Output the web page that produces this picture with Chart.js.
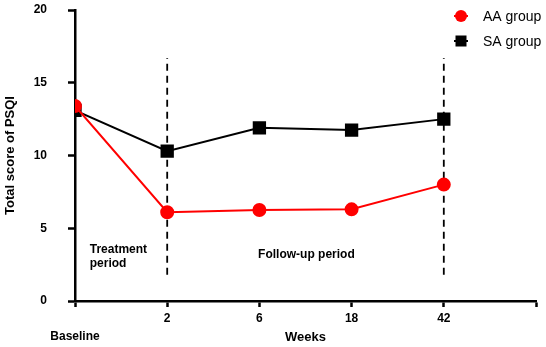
<!DOCTYPE html>
<html>
<head>
<meta charset="utf-8">
<script src="https://cdn.jsdelivr.net/npm/chart.js@4.4.1/dist/chart.umd.min.js"></script>
<style>
html,body{margin:0;padding:0;background:#fff;}
#wrap{width:546px;height:347px;}
</style>
</head>
<body>
<div id="wrap"><canvas id="c" width="546" height="347"></canvas></div>
<script>
const categories = [['', 'Baseline'], '2', '6', '18', '42', ''];
const aaGroup = [13.4, 6.1, 6.25, 6.3, 8.0];
const saGroup = [13.1, 10.3, 11.9, 11.75, 12.5];
const yTicks = [0, 5, 10, 15, 20];
const markerPositions = [1, 4];
const markerRange = [1.8, 16.7];
const annotations = [
  {lines: ['Treatment', 'period'], x: 0.16, y: 3.5, align: 'left'},
  {lines: ['Follow-up period'], x: 2.51, y: 3.2, align: 'center'}
];

const toPts = arr => arr.map((v, i) => ({x: i, y: v}));
const dashedSets = markerPositions.map(p => ({
  label: '_marker',
  data: [{x: p, y: markerRange[0]}, {x: p, y: markerRange[1]}],
  borderColor: '#000',
  borderWidth: 1.8,
  borderDash: [7, 5],
  pointRadius: 0,
  order: 5
}));

const FONT = '"Liberation Sans", Arial, sans-serif';

const customLegend = {
  id: 'customLegend',
  afterDraw(chart) {
    const ctx = chart.ctx;
    const items = chart.data.datasets.filter(d => d.label[0] !== '_');
    items.forEach((d, i) => {
      const y = 16 + i * 25;
      ctx.save();
      ctx.strokeStyle = d.borderColor;
      ctx.lineWidth = 2;
      ctx.beginPath();
      ctx.moveTo(454, y); ctx.lineTo(468, y); ctx.stroke();
      ctx.fillStyle = d.pointBackgroundColor;
      if (d.pointStyle === 'rect') {
        ctx.fillRect(461 - 5.5, y - 5.5, 11, 11);
      } else {
        ctx.beginPath(); ctx.arc(461, y, 6, 0, Math.PI * 2); ctx.fill();
      }
      ctx.fillStyle = '#000';
      ctx.font = '14px ' + FONT;
      ctx.textBaseline = 'middle';
      ctx.textAlign = 'left';
      ctx.fillText(d.label, 483, y + 1);
      ctx.restore();
    });
  }
};

const annotationPlugin = {
  id: 'annot',
  afterDatasetsDraw(chart) {
    const ctx = chart.ctx;
    const xs = chart.scales.x, ys = chart.scales.y;
    ctx.save();
    ctx.fillStyle = '#000';
    ctx.font = 'bold 12px ' + FONT;
    ctx.textBaseline = 'middle';
    annotations.forEach(a => {
      ctx.textAlign = a.align;
      const px = xs.getPixelForValue(a.x);
      const py = ys.getPixelForValue(a.y);
      a.lines.forEach((l, i) => ctx.fillText(l, px, py + i * 14));
    });
    ctx.restore();
  }
};

new Chart(document.getElementById('c'), {
  type: 'line',
  data: {
    datasets: [
      {
        label: 'AA group',
        data: toPts(aaGroup),
        borderColor: '#ff0000',
        backgroundColor: '#ff0000',
        pointBackgroundColor: '#ff0000',
        pointBorderColor: '#ff0000',
        pointStyle: 'circle',
        pointRadius: 6,
        borderWidth: 2,
        order: 1
      },
      {
        label: 'SA group',
        data: toPts(saGroup),
        borderColor: '#000',
        backgroundColor: '#000',
        pointBackgroundColor: '#000',
        pointBorderColor: '#000',
        pointStyle: 'rect',
        pointRadius: 8,
        borderWidth: 2,
        order: 2
      },
      ...dashedSets
    ]
  },
  options: {
    responsive: false,
    animation: false,
    layout: {padding: {top: 0, right: 8, left: 0, bottom: 0}},
    plugins: {legend: {display: false}, tooltip: {enabled: false}},
    scales: {
      x: {
        type: 'linear',
        min: 0, max: 5,
        afterBuildTicks: s => { s.ticks = categories.map((c, i) => ({value: i})); },
        afterFit: s => { s.height = 46; s.paddingLeft = 0; s.paddingRight = 0; },
        ticks: {
          autoSkip: false,
          maxRotation: 0,
          padding: 3,
          color: '#000',
          font: {family: FONT, size: 12, weight: 'bold', lineHeight: 1.5},
          callback: (v, i) => categories[i]
        },
        grid: {drawOnChartArea: false, drawTicks: true, tickLength: 6, tickWidth: 2.5, tickColor: '#000'},
        border: {color: '#000', width: 2.5},
        title: {display: true, text: 'Weeks', color: '#000', font: {family: FONT, size: 13, weight: 'bold'}, padding: {top: 0, bottom: 2}}
      },
      y: {
        min: 0, max: 20,
        afterBuildTicks: s => { s.ticks = yTicks.map(v => ({value: v})); },
        afterFit: s => { s.width = 75; s.paddingTop = 6; s.paddingBottom = 0; },
        ticks: {
          padding: 21,
          color: '#000',
          font: {family: FONT, size: 12, weight: 'bold'}
        },
        grid: {drawOnChartArea: false, drawTicks: true, tickLength: 7, tickWidth: 2.5, tickColor: '#000'},
        border: {color: '#000', width: 2.5},
        title: {display: true, text: 'Total score of PSQI', color: '#000', font: {family: FONT, size: 13, weight: 'bold'}, padding: {top: 3, bottom: 0}}
      }
    }
  },
  plugins: [annotationPlugin, customLegend]
});
</script>
</body>
</html>
